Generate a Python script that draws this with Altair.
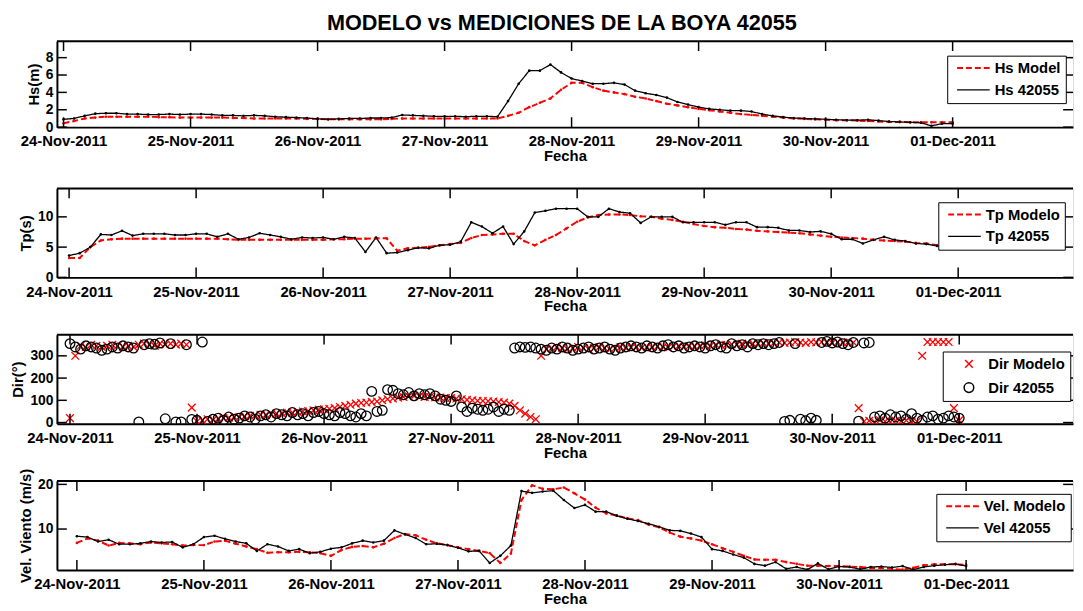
import altair as alt
import pandas as pd

FONT = "Liberation Sans"

# ---------------- data ----------------
DAY_LABELS = ["24-Nov-2011", "25-Nov-2011", "26-Nov-2011", "27-Nov-2011",
              "28-Nov-2011", "29-Nov-2011", "30-Nov-2011", "01-Dec-2011"]
DAY_TICKS = [0, 24, 48, 72, 96, 120, 144, 168]      # hours since 24-Nov-2011 00:00
T2 = list(range(0, 169, 2))                          # 2-hourly time stamps (h)
T1 = list(range(0, 169))                             # hourly time stamps (h)

HS_MODEL = [0.45, 0.7, 1.0, 1.1, 1.2, 1.2, 1.2, 1.2, 1.2, 1.15,
            1.15, 1.1, 1.1, 1.1, 1.1, 1.1, 1.05, 1.05, 1.0, 1.0,
            1.0, 1.0, 1.0, 0.95, 0.95, 0.9, 0.9, 0.9, 0.9, 0.9,
            0.9, 0.95, 1.0, 1.0, 1.0, 1.0, 1.0, 1.0, 1.0, 1.0,
            1.0, 1.0, 1.3, 1.65, 2.3, 2.8, 3.3, 4.3, 5.1, 5.1,
            4.6, 4.2, 4.0, 3.8, 3.5, 3.3, 3.0, 2.7, 2.5, 2.3,
            2.1, 1.95, 1.8, 1.65, 1.5, 1.4, 1.3, 1.2, 1.1, 1.0,
            0.95, 0.9, 0.85, 0.8, 0.8, 0.75, 0.7, 0.65, 0.6, 0.6,
            0.55, 0.55, 0.55, 0.55, 0.55]
HS_BUOY = [0.9, 1.0, 1.3, 1.55, 1.6, 1.6, 1.5, 1.5, 1.45, 1.45,
           1.5, 1.45, 1.5, 1.5, 1.45, 1.35, 1.35, 1.3, 1.35, 1.3,
           1.2, 1.15, 1.1, 1.05, 0.95, 0.9, 0.95, 1.0, 1.0, 1.05,
           1.05, 1.1, 1.4, 1.35, 1.3, 1.25, 1.25, 1.25, 1.2, 1.25,
           1.25, 1.2, 3.0, 5.0, 6.5, 6.5, 7.2, 6.3, 5.6, 5.3,
           5.0, 5.0, 5.1, 4.9, 4.2, 3.9, 3.7, 3.4, 2.9, 2.6,
           2.3, 2.1, 2.0, 1.9, 1.9, 1.8, 1.5, 1.3, 1.15, 1.05,
           1.0, 0.95, 0.9, 0.85, 0.8, 0.8, 0.85, 0.75, 0.65, 0.6,
           0.55, 0.5, 0.15, 0.4, 0.4]

TP_MODEL = [3.2, 3.2, 5.0, 6.1, 6.3, 6.4, 6.4, 6.4, 6.4, 6.4,
            6.4, 6.4, 6.4, 6.4, 6.4, 6.3, 6.2, 6.2, 6.2, 6.2,
            6.2, 6.2, 6.2, 6.2, 6.2, 6.3, 6.3, 6.4, 6.4, 6.45,
            6.45, 4.4, 4.8, 4.9, 5.05, 5.3, 5.5, 5.7, 6.5, 7.0,
            7.1, 7.2, 7.2, 6.0, 5.3, 6.2, 7.0, 8.1, 9.2, 9.9,
            10.3, 10.4, 10.4, 10.3, 10.1, 10.0, 9.7, 9.5, 9.2, 8.8,
            8.5, 8.3, 8.2, 8.0, 7.9, 7.7, 7.6, 7.5, 7.4, 7.3,
            7.1, 6.9, 6.7, 6.6, 6.5, 6.4, 6.2, 6.1, 6.0, 5.9,
            5.7, 5.6, 5.3, 5.3, 5.2]
TP_BUOY = [3.6, 4.0, 5.0, 7.1, 7.0, 7.7, 6.9, 7.2, 7.2, 7.2,
           7.0, 7.0, 7.2, 7.2, 6.7, 7.2, 6.3, 6.6, 7.3, 7.0,
           6.7, 6.3, 6.6, 6.5, 6.6, 6.3, 6.7, 6.5, 4.2, 6.6,
           4.0, 4.1, 4.5, 4.9, 4.8, 5.3, 5.4, 5.9, 9.1, 8.4,
           7.3, 8.4, 5.5, 7.6, 10.7, 11.0, 11.35, 11.35, 11.35, 10.0,
           10.0, 11.35, 10.8, 10.6, 9.0, 10.0, 10.0, 10.0, 9.1, 9.1,
           9.1, 9.1, 8.7, 9.1, 9.1, 8.3, 8.3, 8.2, 7.75, 7.75,
           7.5, 7.6, 7.2, 6.3, 6.3, 5.6, 6.2, 6.7, 6.2, 6.0,
           5.6, 5.5, 5.2, 5.2, 5.2]

DIR_MODEL = ([20, 300]
             + [345, 340, 350, 345, 340, 345, 350, 345, 340, 345, 340, 350, 355, 350, 345,
                355, 350, 355, 350, 355, 350]
             + [67]
             + [5, 10, 15, 12, 18, 20, 22, 25, 25, 28, 30, 32, 35, 35, 38, 40, 42, 45, 45, 48,
                50, 52, 55, 58, 60, 62, 65, 70, 75, 80, 85, 88, 90, 92, 95, 100, 105, 108, 112, 115,
                118, 120, 118, 115, 115, 113, 112, 110, 110, 108, 105, 102, 100, 98, 97, 96, 95, 92, 90, 85,
                75, 55, 40, 25, 15]
             + [300]
             + [330, 335, 340, 335, 330, 335, 340, 335, 330, 335, 340, 335, 330, 335, 340,
                335, 338, 340, 335, 340, 338, 342, 340, 338, 342, 345, 340, 345, 342, 345,
                348, 345, 350, 348, 350, 352, 350, 355, 352, 355, 355, 358, 355, 358, 360]
             + [358, 360, 362, 360, 358, 362, 360, 362, 360, 358, 362, 360, 362, 360]
             + [65]
             + [5, 8, 3, 10, 5, 2, 8, 5, 10, 3, 5]
             + [300]
             + [362, 362, 362, 362, 362]
             + [65, 10])
DIR_BUOY = ([355]
            + [340, 330, 345, 340, 335, 325, 330, 340, 335, 345, 340, 335]
            + [3, 350, 355, 352, 358, 17, 355, 3, 3, 350, 14, 10, 362]
            + [5, 15, 20, 10, 25, 15, 20, 30, 25, 15, 30, 35, 25, 40, 35, 30, 45, 35, 40, 30,
               45, 50, 40, 35, 30, 45, 40, 30, 25, 40, 30]
            + [140, 50, 55, 148, 145, 130, 125, 135, 120, 130, 125, 130, 120, 105, 100, 95, 120, 70,
               50, 65, 60, 55, 60, 70, 50, 60, 55]
            + [335, 340, 338, 340, 335, 330, 325, 335, 330, 340, 335, 325, 330, 335, 340, 330, 335,
               340, 330, 325, 335, 340, 345, 340, 335, 345, 340, 335, 345, 350, 340, 345, 335, 340,
               345, 340, 335, 345, 350, 340, 335, 355, 345, 350, 340, 355, 350, 355, 350, 355, 360]
            + [5, 10, 355, 15, 8, 20, 10, 360, 365, 358, 362, 355, 350, 360, 6, 358, 360,
               25, 30, 20, 35, 25, 30, 15, 40, 20, 10, 25, 30, 15, 20, 30, 25, 20])

VEL_MODEL = [6.9, 7.9, 7.4, 6.3, 6.9, 6.8, 6.6, 7.0, 6.8, 6.6,
             6.3, 6.4, 6.4, 7.2, 7.4, 6.7, 6.1, 5.5, 4.7, 4.8,
             4.8, 4.9, 4.8, 4.6, 4.0, 5.3, 6.0, 6.2, 5.9, 6.7,
             8.0, 8.9, 8.6, 7.6, 6.8, 6.4, 5.9, 5.5, 5.1, 4.6,
             2.4, 4.5, 16.5, 19.8, 19.0, 18.9, 19.3, 18.0, 16.6, 14.8,
             13.5, 13.0, 12.4, 12.0, 11.0, 10.4, 9.2, 8.3, 7.9, 7.4,
             6.6, 5.7, 4.9, 4.0, 3.2, 3.1, 3.1, 2.6, 2.2, 1.8,
             1.8, 1.7, 1.7, 1.6, 1.5, 1.3, 1.3, 1.1, 0.9, 1.3,
             1.9, 2.1, 2.1, 2.1, 2.0]
VEL_BUOY = [8.4, 8.2, 7.2, 7.6, 6.6, 6.6, 6.8, 7.2, 7.0, 7.1,
            5.9, 6.6, 8.2, 8.5, 7.8, 7.2, 6.8, 5.1, 6.6, 6.1,
            5.1, 5.5, 4.6, 4.9, 5.6, 5.9, 6.8, 7.4, 7.0, 7.4,
            9.7, 8.8, 8.0, 6.6, 6.7, 6.4, 5.8, 5.0, 5.1, 2.4,
            4.0, 6.3, 18.5, 18.1, 18.4, 18.6, 16.5, 14.7, 15.4, 13.9,
            13.9, 13.0, 12.3, 11.8, 11.2, 10.5, 9.7, 9.6, 9.0, 8.2,
            5.5, 5.1, 4.3, 3.6, 2.2, 1.8, 2.6, 1.1, 1.5, 0.9,
            2.3, 1.0, 1.6, 1.5, 1.0, 1.5, 1.6, 1.4, 1.7, 0.9,
            1.5, 1.8, 2.0, 2.2, 1.7]

# ---------------- layout constants ----------------
W = 1028
TICK = 10
LINE_SYM = "M-3,0L3,0"
X_SYM = "M-1,-1L1,1M-1,1L1,-1"
LABEL_EXPR = "[" + ",".join("'%s'" % s for s in DAY_LABELS) + "][round(datum.value/24)]"


def long_df(t, a, b, na, nb):
    return pd.DataFrame({"h": list(t) * 2, "v": a + b,
                         "serie": [na] * len(a) + [nb] * len(b)})


def x_axis():
    return alt.Axis(values=DAY_TICKS, labelExpr=LABEL_EXPR, title="Fecha", ticks=False,
                    grid=False, domainColor="black", domainWidth=2, labelFont=FONT,
                    labelFontSize=15, labelFontWeight="bold", labelColor="black",
                    labelPadding=7, labelFlush=False, labelOverlap=False, titleFont=FONT,
                    titleFontSize=15, titleFontWeight="bold", titleColor="black",
                    titlePadding=0)


def y_axis(vals, title):
    return alt.Axis(values=vals, title=title, ticks=False, grid=False, domainColor="black",
                    domainWidth=2, labelFont=FONT, labelFontSize=14, labelFontWeight="bold",
                    labelColor="black", labelPadding=4, labelOverlap=False, labelFlush=False,
                    titleFont=FONT, titleFontSize=15, titleFontWeight="bold",
                    titleColor="black", titlePadding=4)


def frame(xs, ys, xa, ya, yvals, h):
    xt = pd.DataFrame({"h": DAY_TICKS})
    yt = pd.DataFrame({"v": yvals})
    one = pd.DataFrame({"k": [0]})
    st = dict(color="black", strokeWidth=1.5)
    bot = alt.Chart(xt).mark_rule(**st).encode(
        x=alt.X("h:Q", scale=xs, axis=xa), y=alt.value(h), y2=alt.value(h - TICK))
    top = alt.Chart(xt).mark_rule(**st).encode(
        x=alt.X("h:Q", scale=xs, axis=xa), y=alt.value(0), y2=alt.value(TICK))
    left = alt.Chart(yt).mark_rule(**st).encode(
        y=alt.Y("v:Q", scale=ys, axis=ya), x=alt.value(0), x2=alt.value(TICK))
    right = alt.Chart(yt).mark_rule(**st).encode(
        y=alt.Y("v:Q", scale=ys, axis=ya), x=alt.value(W), x2=alt.value(W - TICK))
    border = alt.Chart(one).mark_rule(color="black", strokeWidth=2).encode(
        x=alt.value(0), x2=alt.value(W), y=alt.value(0))
    return [bot, top, left, right, border]


def line_legend(lx, ly):
    return alt.Legend(title=None, orient="none", legendX=lx, legendY=ly, fillColor="white",
                      strokeColor="black", padding=5, rowPadding=6, labelFont=FONT,
                      labelFontSize=15, labelFontWeight="bold", labelColor="black",
                      symbolType=LINE_SYM, symbolSize=121, symbolStrokeWidth=2,
                      symbolOffset=14, labelOffset=14)


def line_panel(df, names, xdom, ydom, yvals, ytitle, h, lx, ly):
    xs = alt.Scale(domain=xdom, nice=False, zero=False)
    ys = alt.Scale(domain=ydom, nice=False, zero=False)
    xa = x_axis()
    ya = y_axis(yvals, ytitle)
    cs = alt.Scale(domain=names, range=["#ff0000", "#000000"])
    ds = alt.Scale(domain=names, range=[[6, 3], [1, 0]])
    ws = alt.Scale(domain=names, range=[2, 1.3])
    leg = line_legend(lx, ly)
    lines = alt.Chart(df).mark_line(clip=True).encode(
        x=alt.X("h:Q", scale=xs, axis=xa),
        y=alt.Y("v:Q", scale=ys, axis=ya),
        color=alt.Color("serie:N", scale=cs, legend=leg),
        strokeDash=alt.StrokeDash("serie:N", scale=ds, legend=leg),
        strokeWidth=alt.StrokeWidth("serie:N", scale=ws, legend=None),
    )
    pts = alt.Chart(df).mark_point(filled=True, size=7, opacity=1, clip=True).encode(
        x=alt.X("h:Q", scale=xs, axis=xa),
        y=alt.Y("v:Q", scale=ys, axis=ya),
        color=alt.Color("serie:N", scale=cs, legend=None),
    )
    return alt.layer(lines, pts, *frame(xs, ys, xa, ya, yvals, h)).properties(width=W, height=h)


# ---------------- panels ----------------
hs_df = long_df(T2, HS_MODEL, HS_BUOY, "Hs Model", "Hs 42055")
tp_df = long_df(T2, TP_MODEL, TP_BUOY, "Tp Modelo", "Tp 42055")
vel_df = long_df(T2, VEL_MODEL, VEL_BUOY, "Vel. Modelo", "Vel 42055")
dir_df = long_df(T1, DIR_MODEL, DIR_BUOY, "Dir Modelo", "Dir 42055")

p1 = line_panel(hs_df, ["Hs Model", "Hs 42055"], [-1.25, 190.75], [0, 9.9],
                [0, 2, 4, 6, 8], "Hs(m)", 87, 900.7, 14.7)
p2 = line_panel(tp_df, ["Tp Modelo", "Tp 42055"], [-2.3, 189.7], [0, 14.7],
                [0, 5, 10], "Tp(s)", 90, 891.7, 14)
p4 = line_panel(vel_df, ["Vel. Modelo", "Vel 42055"], [-3.77, 188.2], [0.84, 20.76],
                [10, 20], "Vel. Viento (m/s)", 90, 889.7, 13)

# direction panel (scatter)
d_names = ["Dir Modelo", "Dir 42055"]
d_xs = alt.Scale(domain=[-2.47, 189.5], nice=False, zero=False)
d_ys = alt.Scale(domain=[-5, 395], nice=False, zero=False)
d_xa = x_axis()
d_ya = y_axis([0, 100, 200, 300], "Dir(°)")
d_leg = alt.Legend(title=None, orient="none", legendX=896.2, legendY=17, fillColor="white",
                   strokeColor="black", padding=5, rowPadding=7, labelFont=FONT,
                   labelFontSize=15, labelFontWeight="bold", labelColor="black",
                   symbolSize=70, symbolStrokeWidth=1.5, symbolOffset=14, labelOffset=12)
d_pts = alt.Chart(dir_df).mark_point(filled=False, strokeWidth=1.3, opacity=1, clip=True).encode(
    x=alt.X("h:Q", scale=d_xs, axis=d_xa),
    y=alt.Y("v:Q", scale=d_ys, axis=d_ya),
    color=alt.Color("serie:N", scale=alt.Scale(domain=d_names, range=["#ff0000", "#000000"]),
                    legend=d_leg),
    shape=alt.Shape("serie:N", scale=alt.Scale(domain=d_names, range=[X_SYM, "circle"]),
                    legend=d_leg),
    size=alt.Size("serie:N", scale=alt.Scale(domain=d_names, range=[60, 95]), legend=None),
)
p3 = alt.layer(d_pts, *frame(d_xs, d_ys, d_xa, d_ya, [0, 100, 200, 300], 90)).properties(
    width=W, height=90)

inner = alt.vconcat(p2, p3, p4, spacing=58, bounds="flush").resolve_scale(
    color="independent", strokeDash="independent", shape="independent",
    size="independent", strokeWidth="independent")

chart = alt.vconcat(p1, inner, spacing=62, bounds="flush").resolve_scale(
    color="independent", strokeDash="independent", shape="independent",
    size="independent", strokeWidth="independent"
).properties(
    title=alt.TitleParams("MODELO vs MEDICIONES DE LA BOYA 42055", font=FONT, fontSize=21.9,
                          fontWeight="bold", color="black", anchor="middle", offset=5, dx=19.5),
    padding={"left": 2.5, "top": 0, "right": 0, "bottom": 0},
).configure_view(stroke=None).configure(background="white")

chart.save("out.html", embed_options={"renderer": "svg", "actions": False})
